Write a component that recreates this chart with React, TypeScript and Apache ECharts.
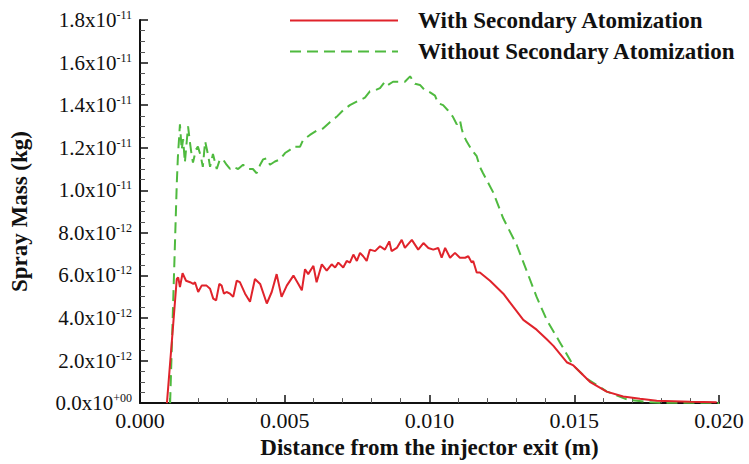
import React, { useEffect, useRef } from "react";
import * as echarts from "echarts";

// Distance from injector exit (m) and spray mass (kg)
const withX = [
  0.00093, 0.00115, 0.00127, 0.00132, 0.00138, 0.00147, 0.00159, 0.00173, 0.00184, 0.0019,
  0.00201, 0.00213, 0.0023, 0.00242, 0.00253, 0.00263, 0.00274, 0.00282, 0.0029, 0.00299,
  0.00311, 0.00322, 0.00334, 0.00345, 0.00363, 0.0038, 0.00397, 0.00415, 0.00438, 0.00455,
  0.00472, 0.00489, 0.00507, 0.0053, 0.00547, 0.00559, 0.0057, 0.00581, 0.00599, 0.0061,
  0.00628, 0.00645, 0.00662, 0.00674, 0.00685, 0.00702, 0.00714, 0.00725, 0.00737, 0.00749,
  0.0076, 0.00771, 0.00783, 0.00794, 0.00812, 0.00829, 0.00846, 0.00861, 0.00869, 0.00887,
  0.00904, 0.00915, 0.00939, 0.00961, 0.00979, 0.00996, 0.01013, 0.0103, 0.01042, 0.01054,
  0.01071, 0.01088, 0.01105, 0.01123, 0.01134, 0.01146, 0.01151, 0.01163, 0.01174, 0.01209,
  0.01255, 0.01289, 0.01324, 0.0137, 0.01405, 0.01428, 0.01474, 0.01497, 0.01554, 0.01612,
  0.01669, 0.01727, 0.01785, 0.019, 0.01992,
];
const withMass = [
  0, 3.76e-12, 5.83e-12, 5.91e-12, 5.45e-12, 6.1e-12, 5.75e-12, 5.68e-12, 5.6e-12, 5.68e-12,
  5.22e-12, 5.52e-12, 5.52e-12, 5.37e-12, 4.91e-12, 4.83e-12, 5.6e-12, 5.52e-12, 5.14e-12, 5.22e-12,
  5.14e-12, 4.99e-12, 5.75e-12, 5.68e-12, 5.14e-12, 4.76e-12, 5.83e-12, 5.6e-12, 4.68e-12, 5.22e-12,
  6.06e-12, 4.99e-12, 5.52e-12, 5.99e-12, 5.6e-12, 5.3e-12, 6.29e-12, 6.06e-12, 6.45e-12, 5.68e-12,
  6.52e-12, 6.22e-12, 6.52e-12, 6.37e-12, 6.6e-12, 6.37e-12, 6.68e-12, 6.6e-12, 6.98e-12, 6.68e-12,
  7.06e-12, 6.9e-12, 6.68e-12, 7.21e-12, 7.14e-12, 7.37e-12, 7.21e-12, 7.6e-12, 7.14e-12, 7.29e-12,
  7.67e-12, 7.29e-12, 7.67e-12, 7.21e-12, 7.52e-12, 7.29e-12, 7.21e-12, 7.29e-12, 6.83e-12, 7.29e-12,
  6.83e-12, 7.06e-12, 6.83e-12, 6.83e-12, 6.9e-12, 6.6e-12, 6.68e-12, 6.14e-12, 6.14e-12, 5.75e-12,
  5.14e-12, 4.53e-12, 3.91e-12, 3.45e-12, 3.0e-12, 2.69e-12, 1.92e-12, 1.77e-12, 1.0e-12, 0.54e-12,
  0.31e-12, 0.2e-12, 0.11e-12, 0.06e-12, 0.04e-12,
];

const withoutX = [
  0.00104, 0.00127, 0.00131, 0.00138, 0.00144, 0.00149, 0.00155, 0.00166, 0.00173, 0.00179,
  0.00183, 0.00193, 0.002, 0.0021, 0.00217, 0.00225, 0.00236, 0.00242, 0.00252, 0.00265,
  0.00276, 0.00287, 0.00299, 0.00311, 0.00321, 0.00339, 0.00356, 0.00373, 0.0039, 0.00403,
  0.00415, 0.00425, 0.00438, 0.00449, 0.00466, 0.00484, 0.00501, 0.00518, 0.00528, 0.00553,
  0.00563, 0.00587, 0.0061, 0.00632, 0.00656, 0.00679, 0.00701, 0.00725, 0.00753, 0.00777,
  0.00794, 0.00812, 0.00829, 0.00846, 0.00857, 0.00874, 0.00898, 0.00915, 0.00933, 0.0095,
  0.00967, 0.00984, 0.01002, 0.01019, 0.01029, 0.01047, 0.01064, 0.01081, 0.01094, 0.01105,
  0.01111, 0.01116, 0.01128, 0.01146, 0.01163, 0.01174, 0.01185, 0.0122, 0.01255, 0.01301,
  0.01336, 0.0137, 0.01405, 0.01451, 0.01496, 0.01544, 0.01613, 0.01682, 0.01751, 0.01796,
  0.02,
];
const withoutMass = [
  0, 10.3e-12, 11.6e-12, 13.1e-12, 11.9e-12, 12.4e-12, 11.3e-12, 13.0e-12, 12.2e-12, 11.6e-12,
  11.3e-12, 11.9e-12, 12.05e-12, 11.6e-12, 11.1e-12, 12.3e-12, 11.6e-12, 11.1e-12, 11.7e-12, 11.0e-12,
  11.45e-12, 11.45e-12, 11.2e-12, 11.0e-12, 11.1e-12, 11.0e-12, 11.2e-12, 11.0e-12, 11.0e-12, 10.8e-12,
  11.2e-12, 11.45e-12, 11.5e-12, 11.2e-12, 11.35e-12, 11.45e-12, 11.75e-12, 11.9e-12, 12.05e-12, 12.05e-12,
  12.35e-12, 12.6e-12, 12.8e-12, 12.9e-12, 13.2e-12, 13.45e-12, 13.75e-12, 14.0e-12, 14.2e-12, 14.35e-12,
  14.65e-12, 14.7e-12, 14.8e-12, 15.1e-12, 14.95e-12, 15.1e-12, 15.1e-12, 15.1e-12, 15.35e-12, 15.0e-12,
  14.95e-12, 14.7e-12, 14.6e-12, 14.45e-12, 14.1e-12, 14.0e-12, 13.75e-12, 13.45e-12, 13.1e-12, 13.3e-12,
  12.9e-12, 12.65e-12, 12.3e-12, 11.9e-12, 11.6e-12, 11.1e-12, 10.8e-12, 9.9e-12, 8.67e-12, 7.44e-12,
  6.2e-12, 4.99e-12, 3.91e-12, 2.84e-12, 1.78e-12, 1.14e-12, 0.54e-12, 0.17e-12, 0.05e-12, 0.02e-12,
  0.01e-12,
];

const seriesNames = ["With Secondary Atomization", "Without Secondary Atomization"];
const xAxisTitle = "Distance from the injector exit (m)";
const yAxisTitle = "Spray Mass (kg)";

const FONT = '"Liberation Serif", "Times New Roman", serif';

function yLabel(v: number): string {
  if (Math.abs(v) < 1e-20) return "{a|0.0x10}{b|+00}";
  const [m, e] = v.toExponential(1).split("e");
  const ee = parseInt(e, 10);
  const sign = ee < 0 ? "-" : "+";
  const abs = Math.abs(ee).toString().padStart(2, "0");
  return `{a|${m}x10}{b|${sign}${abs}}`;
}

export default function App() {
  const ref = useRef<HTMLDivElement>(null);
  useEffect(() => {
    if (!ref.current) return;
    const chart = echarts.init(ref.current, null, { renderer: "svg" });
    const zip = (xs: number[], ys: number[]) => xs.map((x, i) => [x, ys[i]]);
    chart.setOption({
      animation: false,
      backgroundColor: "#ffffff",
      grid: { left: 140, right: 30, top: 20, bottom: 52, containLabel: false },
      legend: {
        orient: "vertical",
        left: 289,
        top: 9,
        padding: 0,
        itemWidth: 108,
        itemHeight: 20,
        itemGap: 8,
        itemStyle: { opacity: 0 },
        textStyle: {
          fontFamily: FONT,
          fontWeight: "bold",
          fontSize: 23,
          color: "#111",
          padding: [0, 0, 0, 15],
        },
        data: seriesNames,
      },
      xAxis: {
        type: "value",
        min: 0,
        max: 0.02,
        interval: 0.005,
        name: xAxisTitle,
        nameLocation: "middle",
        nameGap: 28,
        nameTextStyle: {
          fontFamily: FONT,
          fontWeight: "bold",
          fontSize: 23,
          color: "#111",
          verticalAlign: "top",
        },
        axisLine: { show: true, onZero: false, lineStyle: { color: "#111", width: 2 } },
        axisTick: { show: true, inside: true, length: 8, lineStyle: { color: "#111", width: 1.5 } },
        minorTick: { show: true, splitNumber: 5, length: 5, lineStyle: { color: "#555", width: 1 } },
        axisLabel: {
          fontFamily: FONT,
          fontSize: 22,
          color: "#111",
          margin: 6,
          formatter: (v: number) => v.toFixed(3),
        },
        splitLine: { show: false },
      },
      yAxis: {
        type: "value",
        min: 0,
        max: 1.8e-11,
        interval: 2e-12,
        name: yAxisTitle,
        nameLocation: "middle",
        nameGap: 109,
        nameTextStyle: {
          fontFamily: FONT,
          fontWeight: "bold",
          fontSize: 23,
          color: "#111",
        },
        axisLine: { show: true, onZero: false, lineStyle: { color: "#111", width: 2 } },
        axisTick: { show: true, inside: true, length: 8, lineStyle: { color: "#111", width: 1.5 } },
        minorTick: { show: true, splitNumber: 4, length: 5, lineStyle: { color: "#555", width: 1 } },
        axisLabel: {
          margin: 8,
          formatter: yLabel,
          rich: {
            a: { fontFamily: FONT, fontSize: 21, color: "#111", lineHeight: 22 },
            b: { fontFamily: FONT, fontSize: 12, color: "#111", verticalAlign: "top", lineHeight: 12 },
          },
        },
        splitLine: { show: false },
      },
      series: [
        {
          name: seriesNames[0],
          type: "line",
          data: zip(withX, withMass),
          symbol: "none",
          color: "#e0232b",
          lineStyle: { color: "#e0232b", width: 2 },
          z: 3,
        },
        {
          name: seriesNames[1],
          type: "line",
          data: zip(withoutX, withoutMass),
          symbol: "none",
          color: "#4fba3f",
          lineStyle: { color: "#4fba3f", width: 2, type: [11, 6] },
          z: 2,
        },
      ],
    });
    return () => chart.dispose();
  }, []);
  return <div ref={ref} style={{ width: 749, height: 464, position: "absolute", left: 0, top: 0 }} />;
}
